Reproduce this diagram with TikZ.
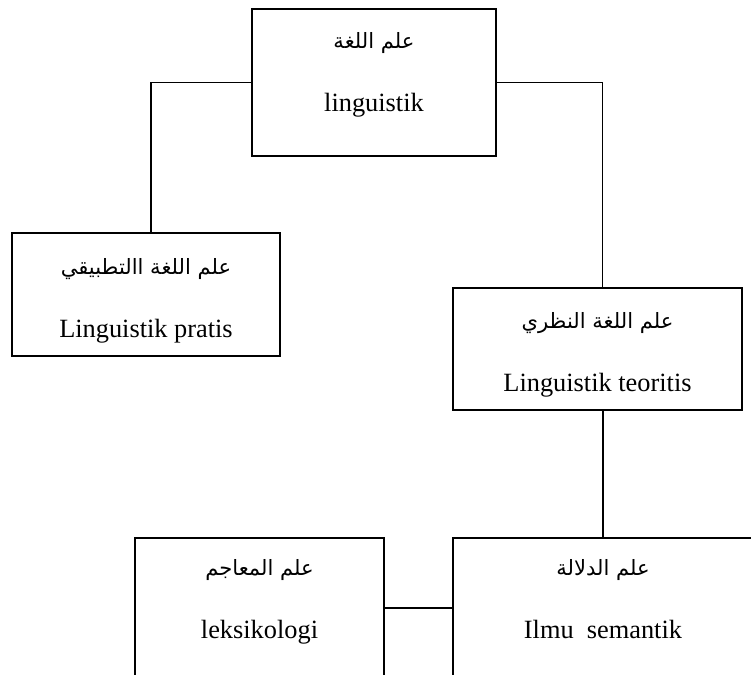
\documentclass[tikz,border=0pt]{standalone}
\usepackage{fontspec}
\setmainfont{Liberation Serif}
\newfontfamily\arabicfont[Script=Arabic]{DejaVu Sans}
\TeXXeTstate=1
\newcommand{\ar}[1]{{\arabicfont\fontsize{12}{14}\selectfont\beginR #1\endR}}

\begin{document}
\begin{tikzpicture} [
    x=0.02cm, y=-0.02cm,
    box/.style={rectangle, draw, line width=1pt, align=center, font=\fontsize{15}{18}\selectfont},
    link/.style={line width=1pt}
]
    \clip (0,0) rectangle (751,675);

    % level 1
    \node[box, minimum width=4.88cm, minimum height=2.94cm] (lugha) at (374,82.5) {\ar{علم اللغة}\\[18pt]linguistik\\[-6pt]\mbox{}};

    % level 2
    \node[box, minimum width=5.36cm, minimum height=2.46cm] (tatbiqi) at (146,294.5) {\rule{0pt}{16pt}\ar{علم اللغة االتطبيقي}\\[18pt]Linguistik pratis};
    \node[box, minimum width=5.78cm, minimum height=2.44cm] (nazari) at (597.5,349) {\rule{0pt}{16pt}\ar{علم اللغة النظري}\\[18pt]Linguistik teoritis};

    % level 3 (cut off at the bottom)
    \node[box, minimum width=4.98cm, minimum height=2.8cm] (maajim) at (259.5,608) {\ar{علم المعاجم}\\[18pt]leksikologi\\[-8pt]\mbox{}};
    \node[box, minimum width=6cm, minimum height=2.8cm] (dalala) at (603,608) {\ar{علم الدلالة}\\[18pt]Ilmu\ \ semantik\\[-8pt]\mbox{}};

    % connections
    \draw[link] (lugha.west) -| ([xshift=0.1cm]tatbiqi.north);
    \draw[link] (lugha.east) -| ([xshift=0.1cm]nazari.north);
    \draw[link] (dalala.north) -- (dalala.north |- nazari.south);
    \draw[link] (maajim.east) -- (dalala.west);
\end{tikzpicture}
\end{document}
